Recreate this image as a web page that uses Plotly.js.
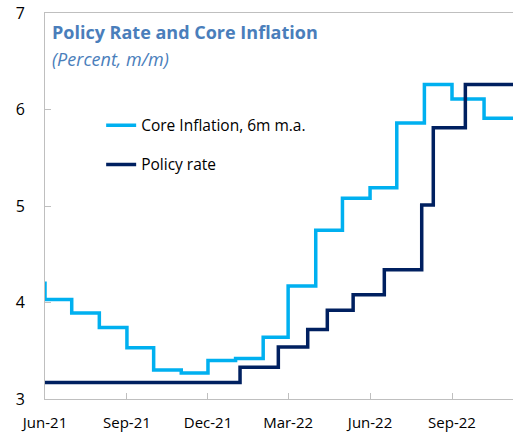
<!DOCTYPE html>
<html>
<head>
<meta charset="utf-8">
<script src="https://cdn.plot.ly/plotly-3.0.1.min.js"></script>
<style>html,body{margin:0;padding:0;background:#fff;}#chart{width:513px;height:432px;}</style>
</head>
<body>
<div id="chart"></div>
<script>
// Core inflation, 6m moving average (step series)
const coreDates = ["2021-05-31","2021-06-01","2021-07-01","2021-08-01","2021-09-01","2021-10-01","2021-11-01","2021-12-01","2022-01-01","2022-02-01","2022-03-01","2022-04-01","2022-05-01","2022-06-01","2022-07-01","2022-08-01","2022-09-01","2022-10-07","2022-11-09"];
const coreValues = [4.20,4.03,3.89,3.74,3.53,3.30,3.27,3.40,3.42,3.64,4.17,4.75,5.08,5.19,5.86,6.26,6.11,5.91,5.91];
// Policy rate (step series)
const policyDates = ["2021-06-01","2022-01-06","2022-02-18","2022-03-23","2022-04-14","2022-05-13","2022-06-17","2022-07-29","2022-08-11","2022-09-16","2022-11-09"];
const policyValues = [3.17,3.33,3.54,3.72,3.92,4.08,4.34,5.01,5.81,6.26,6.26];
const tickDates = ["2021-06-01","2021-09-01","2021-12-01","2022-03-01","2022-06-01","2022-09-01"];
const tickLabels = ["Jun-21","Sep-21","Dec-21","Mar-22","Jun-22","Sep-22"];
const seriesNames = ["Core Inflation, 6m m.a.","Policy rate"];

const FONT = "Open Sans, Noto Sans, sans-serif";
const traces = [
  {x: coreDates, y: coreValues, name: seriesNames[0], type: "scatter", mode: "lines",
   line: {shape: "hv", color: "#00b0f0", width: 3.5}, legendgroup: "a"},
  {x: policyDates, y: policyValues, name: seriesNames[1], type: "scatter", mode: "lines",
   line: {shape: "hv", color: "#002060", width: 3.5}, legendgroup: "b"}
];
const layout = {
  width: 513, height: 432,
  margin: {l: 45, r: 0, t: 13, b: 33},
  paper_bgcolor: "#fff", plot_bgcolor: "#fff",
  font: {family: FONT, size: 15, color: "#000"},
  showlegend: true,
  legend: {x: 0.12, y: 0.752, xanchor: "left", yanchor: "top", bgcolor: "rgba(0,0,0,0)",
           font: {family: FONT, size: 15.5, color: "#000"}, traceorder: "grouped", tracegroupgap: 16},
  xaxis: {type: "date", range: ["2021-06-01", "2022-11-08 12:00"],
          tickvals: tickDates, ticktext: tickLabels, ticks: "inside", ticklen: 6, tickcolor: "#bfbfbf",
          showline: true, linecolor: "#bfbfbf", linewidth: 1, mirror: true, showgrid: false, zeroline: false,
          tickfont: {family: FONT, size: 15, color: "#000"}, ticklabelstandoff: 10},
  yaxis: {range: [3, 7], dtick: 1, ticks: "inside", ticklen: 6, tickcolor: "#bfbfbf",
          showline: true, linecolor: "#bfbfbf", linewidth: 1, showgrid: false, zeroline: false,
          tickfont: {family: FONT, size: 16, color: "#000"}, ticklabelstandoff: 16},
  annotations: [
    {text: "<b>Policy Rate and Core Inflation</b>", xref: "paper", yref: "paper", x: 0.01, y: 0.952,
     xanchor: "left", yanchor: "middle", showarrow: false, font: {family: FONT, size: 18, color: "#4a7ebb"}},
    {text: "<i>(Percent, m/m)</i>", xref: "paper", yref: "paper", x: 0.01, y: 0.881,
     xanchor: "left", yanchor: "middle", showarrow: false, font: {family: FONT, size: 18, color: "#4a7ebb"}}
  ]
};
Plotly.newPlot("chart", traces, layout, {displayModeBar: false, staticPlot: true});
</script>
</body>
</html>
